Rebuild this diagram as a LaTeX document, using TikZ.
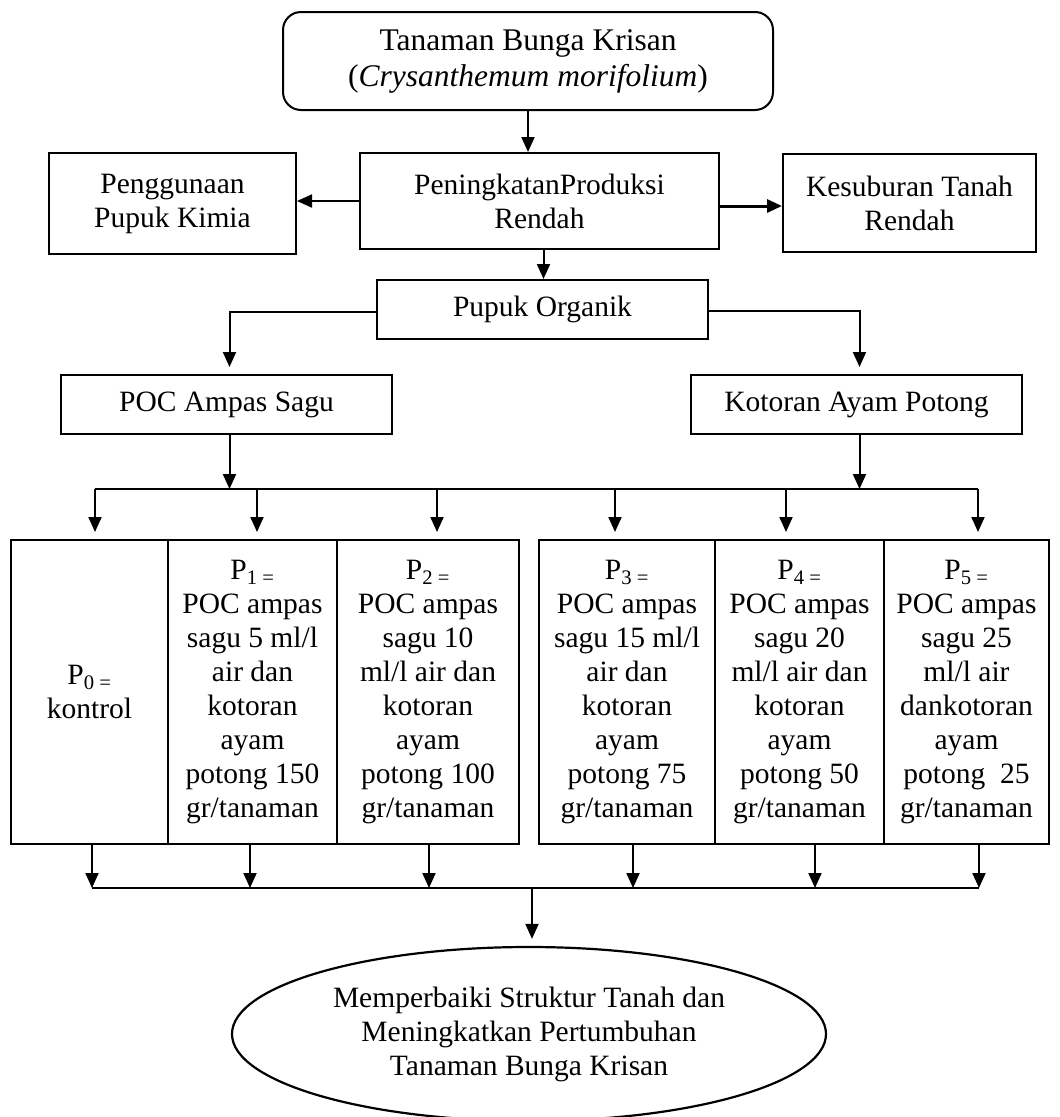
\documentclass[tikz,border=0pt]{standalone}
\usepackage{fontspec}
\setmainfont{Liberation Serif}
\usetikzlibrary{shapes.geometric,arrows.meta}
\newcommand{\psub}[1]{P\textsubscript{#1}}
\begin{document}
\begin{tikzpicture}[x=1pt,y=-1pt,
 box/.style={draw, line width=2pt, align=center, inner sep=0pt, font=\fontsize{29.5}{34}\selectfont},
 cell/.style={box, minimum height=304pt},
 arr/.style={line width=2pt, -{Triangle[length=15pt,width=13pt]}},
 ln/.style={line width=2pt}]
\useasboundingbox (0,0) rectangle (1060,1117);

\node[box, minimum width=490pt, minimum height=98pt, rounded corners=18pt, font=\fontsize{31.5}{36}\selectfont] (top) at (528,61) {Tanaman Bunga Krisan\\(\textit{Crysanthemum morifolium})};
\node[box, minimum width=359pt, minimum height=96pt] (mid) at (539.5,201) {PeningkatanProduksi\\Rendah};
\node[box, minimum width=247pt, minimum height=101pt] (left) at (172.5,203.5) {Penggunaan\\Pupuk Kimia};
\node[box, minimum width=253pt, minimum height=98pt] (right) at (909.5,203) {Kesuburan Tanah\\Rendah};
\node[box, minimum width=331pt, minimum height=59pt] (po) at (542.5,309.5) {Pupuk Organik};
\node[box, minimum width=331pt, minimum height=59pt] (poc) at (226.5,404.5) {POC Ampas Sagu};
\node[box, minimum width=331pt, minimum height=59pt] (kap) at (856.5,404.5) {Kotoran Ayam Potong};

\node[cell, minimum width=157pt] (c0) at (89.5,692) {\psub{0 =}\\kontrol};
\node[cell, minimum width=169pt] (c1) at (252.5,692) {\psub{1 =}\\POC ampas\\sagu 5 ml/l\\air dan\\kotoran\\ayam\\potong 150\\gr/tanaman};
\node[cell, minimum width=182pt] (c2) at (428,692) {\psub{2 =}\\POC ampas\\sagu 10\\ml/l air dan\\kotoran\\ayam\\potong 100\\gr/tanaman};
\node[cell, minimum width=176pt] (c3) at (627,692) {\psub{3 =}\\POC ampas\\sagu 15 ml/l\\air dan\\kotoran\\ayam\\potong 75\\gr/tanaman};
\node[cell, minimum width=169pt] (c4) at (799.5,692) {\psub{4 =}\\POC ampas\\sagu 20\\ml/l air dan\\kotoran\\ayam\\potong 50\\gr/tanaman};
\node[cell, minimum width=165pt] (c5) at (966.5,692) {\psub{5 =}\\POC ampas\\sagu 25\\ml/l air\\dankotoran\\ayam\\potong\ \ 25\\gr/tanaman};

\node[draw, ellipse, line width=2.2pt, minimum width=594pt, minimum height=174pt, inner sep=0pt, align=center, font=\fontsize{29.5}{34}\selectfont] (ell) at (529,1034) {Memperbaiki Struktur Tanah dan\\Meningkatkan Pertumbuhan\\Tanaman Bunga Krisan};

% connectors
\draw[arr] (top.south) -- (top.south |- mid.north);
\draw[arr] (mid.west) -- (mid.west -| left.east);
\draw[arr, line width=3pt] ([yshift=-5pt]mid.east) -- ([yshift=-5pt]mid.east -| right.west);
\draw[arr] ([xshift=4pt]mid.south) -- ([xshift=4pt]mid.south |- po.north);
\draw[arr, shorten >=7pt] ([yshift=-2pt]po.west) -| ([xshift=3pt]poc.north);
\draw[arr, shorten >=7pt] ([yshift=-1pt]po.east) -| ([xshift=3pt]kap.north);

\coordinate (bL) at (95,489);
\coordinate (bR) at (978,489);
\draw[ln] (bL) -- (bR);
\draw[arr] ([xshift=3pt]poc.south) -- ([xshift=3pt]poc.south |- bL);
\draw[arr] ([xshift=3pt]kap.south) -- ([xshift=3pt]kap.south |- bR);

\coordinate (d0) at (95,489);
\coordinate (d1) at (257,489);
\coordinate (d2) at (437,489);
\coordinate (d3) at (615,489);
\coordinate (d4) at (786,489);
\coordinate (d5) at (978,489);
\foreach \i in {0,...,5}{
  \draw[arr, shorten >=7pt] (d\i) -- (d\i |- c\i.north);
}

\coordinate (u0) at (92,888);
\coordinate (u1) at (250,888);
\coordinate (u2) at (429,888);
\coordinate (u3) at (633,888);
\coordinate (u4) at (815,888);
\coordinate (u5) at (979,888);
\draw[ln] (u0) -- (u5);
\foreach \i in {0,...,5}{
  \draw[arr] (u\i |- c\i.south) -- (u\i);
}
\coordinate (m) at (532,888);
\draw[arr, shorten >=7pt] (m) -- (m |- ell.north);
\end{tikzpicture}
\end{document}
